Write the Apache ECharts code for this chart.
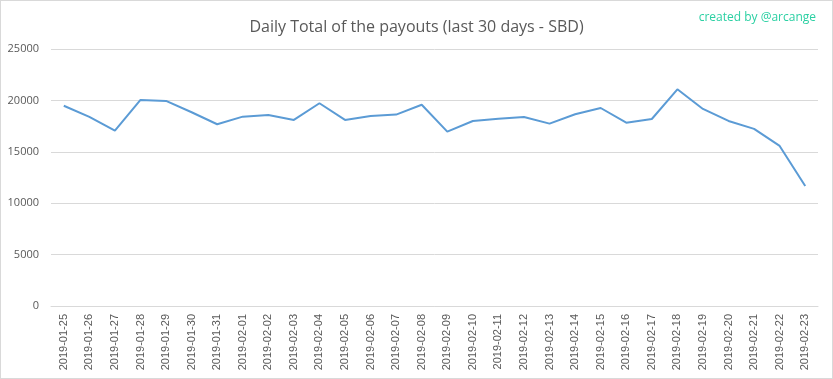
<!DOCTYPE html>
<html><head><meta charset="utf-8">
<script src="https://cdn.jsdelivr.net/npm/echarts@6/dist/echarts.min.js"></script>
<style>html,body{margin:0;padding:0;background:#fff}#c{width:833px;height:379px;box-sizing:border-box;border:1px solid #d9d9d9}</style>
</head><body><div id="c"></div>
<script>
const categories = ["2019-01-25","2019-01-26","2019-01-27","2019-01-28","2019-01-29","2019-01-30","2019-01-31","2019-02-01","2019-02-02","2019-02-03","2019-02-04","2019-02-05","2019-02-06","2019-02-07","2019-02-08","2019-02-09","2019-02-10","2019-02-11","2019-02-12","2019-02-13","2019-02-14","2019-02-15","2019-02-16","2019-02-17","2019-02-18","2019-02-19","2019-02-20","2019-02-21","2019-02-22","2019-02-23"];
const payouts = [19480,18400,17050,20050,19950,18850,17680,18420,18590,18100,19720,18100,18490,18620,19580,16960,18000,18220,18390,17740,18650,19260,17830,18190,21080,19170,18000,17230,15570,11680];
const yTicks = [0,5000,10000,15000,20000,25000];
const chart = echarts.init(document.getElementById('c'));
chart.setOption({
  animation:false,
  title:[{text:'Daily Total of the payouts (last 30 days - SBD)',left:'center',top:13,textStyle:{fontFamily:'Open Sans',fontSize:16,fontWeight:'normal',color:'#595959'}},
         {text:'created by @arcange',right:11,top:6,textStyle:{fontFamily:'Open Sans',fontSize:12,fontWeight:'normal',color:'#2bd0a3'}}],
  grid:{left:50,right:14,top:48,bottom:72},
  xAxis:{type:'category',data:categories,boundaryGap:true,
    axisLine:{lineStyle:{color:'#d9d9d9'}},axisTick:{show:false},
    axisLabel:{rotate:90,fontSize:11,color:'#595959',fontFamily:'Liberation Sans',margin:8,interval:0}},
  yAxis:{type:'value',min:yTicks[0],max:yTicks[yTicks.length-1],interval:5000,
    axisLine:{show:false},axisTick:{show:false},
    splitLine:{lineStyle:{color:'#d9d9d9'}},
    axisLabel:{fontSize:11,color:'#595959',fontFamily:'Open Sans',margin:12,formatter:function(v){return String(v);}}},
  series:[{type:'line',data:payouts,symbol:'none',lineStyle:{color:'#5b9bd5',width:2}}]
});
</script></body></html>
